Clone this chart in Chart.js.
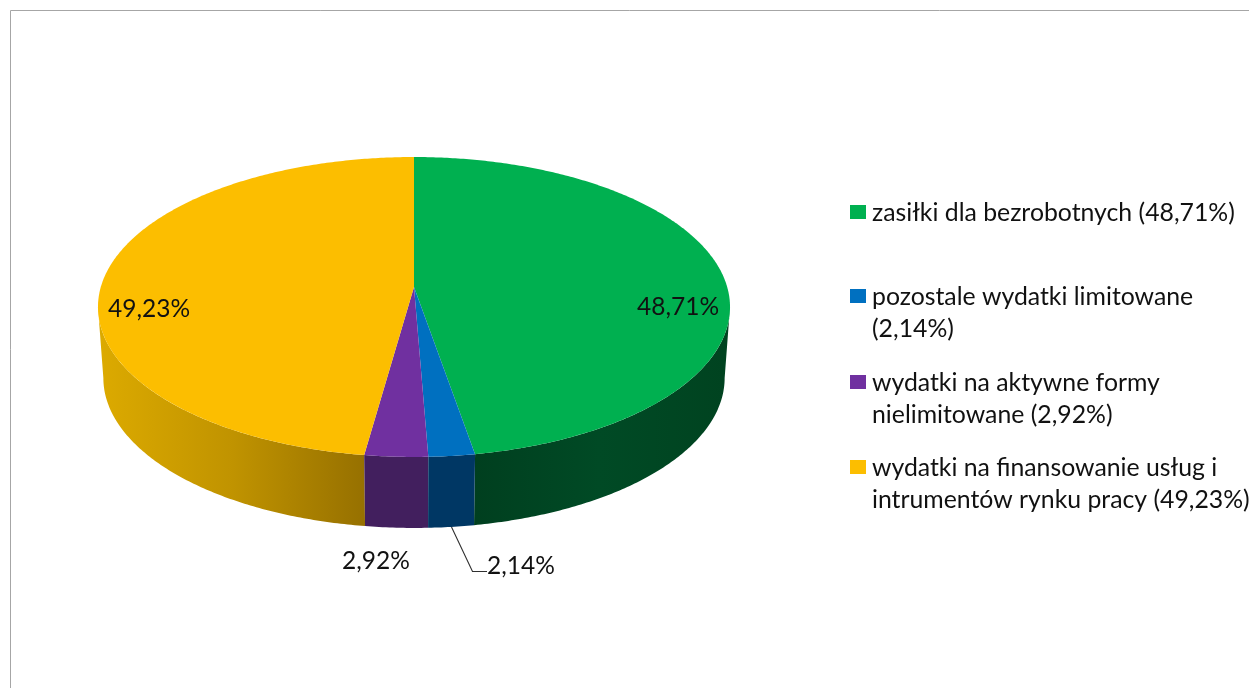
<!DOCTYPE html>
<html lang="pl">
<head>
<meta charset="utf-8">
<title>Wydatki</title>
<script src="https://cdn.jsdelivr.net/npm/chart.js@4"></script>
<style>
html,body{margin:0;padding:0;background:#fff;overflow:hidden}
canvas{display:block}
</style>
</head>
<body>
<canvas id="c" width="1249" height="688"></canvas>
<script>
const categories = ["zasiłki dla bezrobotnych","pozostale wydatki limitowane","wydatki na aktywne formy nielimitowane","wydatki na finansowanie usług i intrumentów rynku pracy"];
const values = [48.71, 2.14, 2.92, 49.23];
const topColors = ["#00B050","#0070C0","#7030A0","#FCBE00"];
const legendLines = [["zasiłki dla bezrobotnych (48,71%)"],["pozostale wydatki limitowane","(2,14%)"],["wydatki na aktywne formy","nielimitowane (2,92%)"],["wydatki na finansowanie usług i","intrumentów rynku pracy (49,23%)"]];
const valueLabels = ["48,71%","2,14%","2,92%","49,23%"];

const FONT = 'Lato, "Open Sans", sans-serif';
const P = {cx:414, cy:287, a:313.2, b:147.3, c:0.1333, depth:71, sx:0.983};

function project(theta){
  const u = Math.sin(theta), v = -Math.cos(theta), w = 1 - P.c*v;
  return {x:P.cx + P.a*u/w, y:P.cy + P.b*v/w};
}
function arcPoints(t0,t1){
  const n = Math.max(2, Math.ceil((t1-t0)/0.01)), pts=[];
  for(let i=0;i<=n;i++) pts.push(project(t0+(t1-t0)*i/n));
  return pts;
}
function lower(p){ return {x:P.cx+(p.x-P.cx)*P.sx, y:p.y+P.depth}; }
function sideFill(ctx,i){
  if(i===3){
    const g = ctx.createLinearGradient(100,0,366,0);
    g.addColorStop(0,"#DCAA00"); g.addColorStop(0.5,"#C09300"); g.addColorStop(1,"#967000");
    return g;
  }
  if(i===0){
    const g = ctx.createLinearGradient(474,0,725,0);
    g.addColorStop(0,"#003F1F"); g.addColorStop(0.5,"#004A25"); g.addColorStop(1,"#004320");
    return g;
  }
  return i===1 ? "#003764" : "#421F5E";
}

const pie3d = {
  id:"pie3d",
  beforeDatasetDraw(chart){
    const ctx = chart.ctx, arcs = chart.getDatasetMeta(0).data;
    const spans = arcs.map(a=>[a.startAngle+Math.PI/2, a.endAngle+Math.PI/2]);
    // silhouette tangents: the wall is only visible on the near side of the disc
    const tangent = Math.acos(-P.c);
    const wallMin = tangent, wallMax = 2*Math.PI-tangent;
    ctx.save();
    ctx.strokeStyle="#A6A6A6"; ctx.lineWidth=1;
    ctx.beginPath(); ctx.moveTo(10.5,688); ctx.lineTo(10.5,10.5); ctx.lineTo(1249,10.5); ctx.stroke();
    // side walls
    [3,0,2,1].forEach(i=>{
      const t0=Math.max(spans[i][0],wallMin), t1=Math.min(spans[i][1],wallMax);
      if(t1<=t0) return;
      const top = arcPoints(t0,t1);
      ctx.fillStyle = sideFill(ctx,i);
      ctx.beginPath();
      top.forEach((p,k)=>k?ctx.lineTo(p.x,p.y):ctx.moveTo(p.x,p.y));
      top.slice().reverse().forEach(p=>{const q=lower(p);ctx.lineTo(q.x,q.y);});
      ctx.closePath(); ctx.fill();
    });
    // top faces
    arcs.forEach((a,i)=>{
      const top = arcPoints(spans[i][0],spans[i][1]);
      ctx.fillStyle = a.options.backgroundColor;
      ctx.beginPath(); ctx.moveTo(P.cx,P.cy);
      top.forEach(p=>ctx.lineTo(p.x,p.y));
      ctx.closePath(); ctx.fill();
    });
    ctx.restore();
    return false;
  },
  afterDatasetsDraw(chart){
    const ctx = chart.ctx;
    ctx.save();
    ctx.strokeStyle="#303030"; ctx.lineWidth=1.1;
    ctx.beginPath(); ctx.moveTo(451.5,527); ctx.lineTo(472.5,571.5); ctx.lineTo(487,571.5); ctx.stroke();
    ctx.fillStyle="#111"; ctx.textBaseline="middle"; ctx.textAlign="center";
    ctx.font = "24.5px "+FONT;
    const labelPos=[[678,307],[521,566],[376,561],[149,309]];
    valueLabels.forEach((t,i)=>ctx.fillText(t,labelPos[i][0],labelPos[i][1]));
    ctx.textAlign="left";
    ctx.font = "24.8px "+FONT;
    const rowY=[212,296,382,467];
    legendLines.forEach((lines,i)=>{
      ctx.fillStyle=topColors[i];
      ctx.fillRect(850,rowY[i]-7,16,14);
      ctx.fillStyle="#111";
      lines.forEach((t,k)=>ctx.fillText(t,872,rowY[i]+1+k*32));
    });
    ctx.restore();
  }
};

new Chart(document.getElementById("c"),{
  type:"pie",
  data:{labels:categories,datasets:[{data:values,backgroundColor:topColors,borderWidth:0}]},
  options:{responsive:false,animation:false,events:[],
    plugins:{legend:{display:false},tooltip:{enabled:false}}},
  plugins:[pie3d]
});
</script>
</body>
</html>
